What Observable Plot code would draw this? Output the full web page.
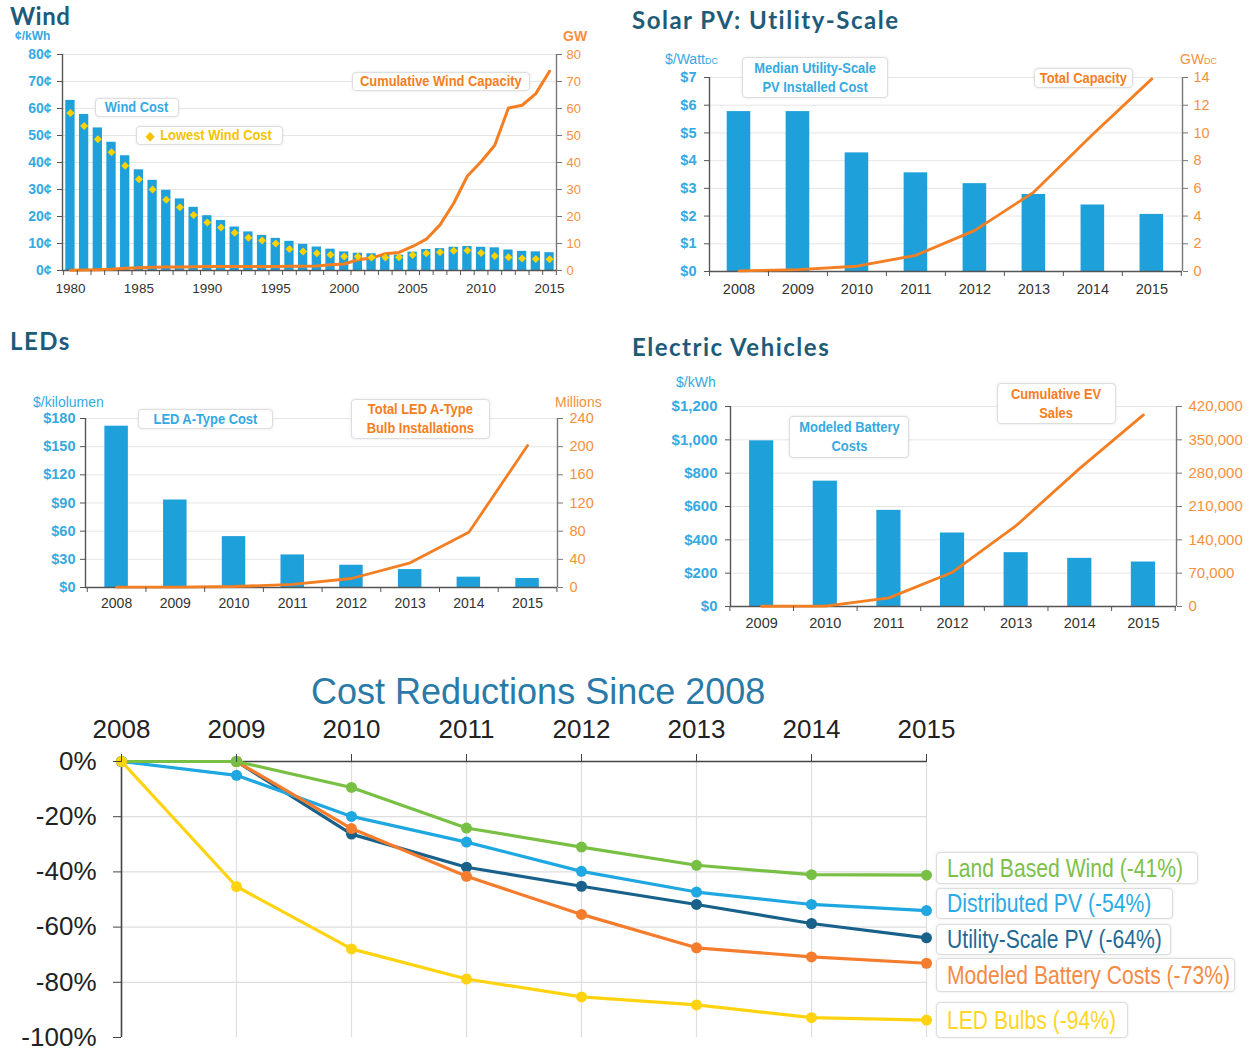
<!DOCTYPE html>
<html>
<head>
<meta charset="utf-8">
<script src="https://cdn.jsdelivr.net/npm/d3@7"></script>
<script src="https://cdn.jsdelivr.net/npm/@observablehq/plot@0.6"></script>
<style>
  html,body{margin:0;padding:0;background:#fff;}
  #root{position:relative;width:1250px;height:1051px;overflow:hidden;background:#fff;font-family:"Liberation Sans",Arial,sans-serif;}
  .plot{position:absolute;}
  .plot svg{display:block;}
  .ttl{position:absolute;font-family:Lato,"Open Sans",sans-serif;font-weight:700;color:#1d5b79;font-size:24px;letter-spacing:1.5px;line-height:1;white-space:nowrap;}
  .unit{position:absolute;line-height:1;white-space:nowrap;font-family:"Liberation Sans",Arial,sans-serif;}
  .box{position:absolute;box-sizing:border-box;background:#fff;border:1px solid #dedede;border-radius:4px;box-shadow:0 0 3px rgba(0,0,0,0.10);display:flex;align-items:center;justify-content:center;text-align:center;font-family:"Liberation Sans",Arial,sans-serif;font-weight:700;font-size:14px;line-height:1.35;white-space:nowrap;}
  .box span.c{display:inline-block;transform:scaleX(0.92);transform-origin:center;}
  .lg{position:absolute;box-sizing:border-box;background:#fff;border:1.5px solid #dcdcdc;border-radius:4px;box-shadow:0 0 3px rgba(0,0,0,0.10);display:flex;align-items:center;padding-left:10px;font-family:"Liberation Sans",Arial,sans-serif;font-size:25px;line-height:1;white-space:nowrap;overflow:visible;}
  .lg span{display:inline-block;transform:scaleX(0.845);transform-origin:left center;}
  .big{position:absolute;font-family:"Liberation Sans",Arial,sans-serif;font-size:36px;line-height:0.85;color:#2a7aa8;white-space:nowrap;}
</style>
</head>
<body>
<div id="root"></div>
<script>
// ---------------- DATA ----------------
// Wind
const windYears = [1980,1981,1982,1983,1984,1985,1986,1987,1988,1989,1990,1991,1992,1993,1994,1995,1996,1997,1998,1999,2000,2001,2002,2003,2004,2005,2006,2007,2008,2009,2010,2011,2012,2013,2014,2015];
const windCost = [63,57.8,52.8,47.5,42.5,37.3,33.4,29.7,26.5,23.4,20.3,18.5,16.1,14.3,13.0,11.9,10.8,9.7,8.7,7.9,6.9,6.4,6.2,5.9,5.7,6.8,7.8,8.1,8.6,8.9,8.6,8.4,7.6,7.1,6.9,6.6];
const windLowest = [58.3,53.5,48.6,43.8,38.8,33.8,30,26.2,23.4,20.6,17.8,15.9,14,12.1,11.1,10,8,7,6.4,5.8,5.2,5.2,4.8,4.8,4.9,5.7,6.4,6.8,7.3,7.4,6.5,5.4,4.9,4.4,4.3,4.2];
const windCapacity = [0.1,0.2,0.3,0.5,0.8,1.0,1.2,1.3,1.3,1.4,1.5,1.5,1.5,1.5,1.5,1.5,1.6,1.6,1.7,2.1,2.4,4.0,4.6,6.2,6.7,8.9,11.6,16.9,24.9,35.0,40.3,46.4,60.2,61.2,65.5,73.8];
const windLabelYears = [1980,1985,1990,1995,2000,2005,2010,2015];
const windLeftTicks = [0,10,20,30,40,50,60,70,80];
const windRightTicks = [0,10,20,30,40,50,60,70,80];

// Solar PV utility-scale
const solarYears = [2008,2009,2010,2011,2012,2013,2014,2015];
const solarCost = [5.77,5.77,4.28,3.56,3.17,2.78,2.40,2.06];
const solarCapacity = [0.05,0.14,0.38,1.17,2.97,5.73,9.9,13.9];
const solarLeftTicks = [0,1,2,3,4,5,6,7];
const solarRightTicks = [0,2,4,6,8,10,12,14];

// LEDs
const ledYears = [2008,2009,2010,2011,2012,2013,2014,2015];
const ledCost = [171.8,93.2,54.2,34.7,23.7,19.1,11,9.6];
const ledInstalls = [0.5,0.5,1.4,4.3,12.8,35,78.4,201.6];
const ledLeftTicks = [0,30,60,90,120,150,180];
const ledRightTicks = [0,40,80,120,160,200,240];

// Electric vehicles
const evYears = [2009,2010,2011,2012,2013,2014,2015];
const evCost = [994,752,577,441,323,289,267];
const evSales = [500,700,18200,72000,169800,290000,402400];
const evLeftTicks = [0,200,400,600,800,1000,1200];
const evRightTicks = [0,70000,140000,210000,280000,350000,420000];

// Cost reductions since 2008 (%)
const redYears = [2008,2009,2010,2011,2012,2013,2014,2015];
const redSeries = ["Utility-Scale PV","Distributed PV","Modeled Battery Costs","Land Based Wind","LED Bulbs"];
const redUtilityPV = [0,0,-26.3,-38.3,-45.2,-51.8,-58.7,-63.9];
const redDistributedPV = [0,-5,-19.9,-29.2,-39.8,-47.3,-51.8,-54];
const redBattery = [null,0,-24.3,-41.6,-55.4,-67.5,-70.8,-73.1];
const redWind = [0,0,-9.4,-24.1,-31,-37.6,-41,-41.2];
const redLED = [0,-45.3,-67.9,-78.8,-85.3,-88.2,-92.8,-93.7];
const redTicks = [0,-20,-40,-60,-80,-100];
const legendLabels = ["Land Based Wind (-41%)","Distributed PV (-54%)","Utility-Scale PV (-64%)","Modeled Battery Costs (-73%)","LED Bulbs (-94%)"];

// ---------------- STYLE ----------------
const BLUE = "#1ea0da";
const ORANGE = "#f47e22";
const YELLOW = "#ffd200";
const BLUE_TXT = "#35a9e1";
const ORANGE_TXT = "#f7903c";
const AXIS = "#555";
const GRID = "#e6e6e6";

const root = document.getElementById("root");
function addEl(tag, cls, css, html) {
  const e = document.createElement(tag);
  if (cls) e.className = cls;
  Object.assign(e.style, css);
  if (html != null) e.innerHTML = html;
  root.appendChild(e);
  return e;
}
function addPlot(svg, left, top, w, h) {
  const d = addEl("div", "plot", {left: left + "px", top: top + "px", width: w + "px", height: h + "px"});
  d.appendChild(svg);
}
function box(l, t, r, b, color, html, extra) {
  return addEl("div", "box", Object.assign({left: l + "px", top: t + "px", width: (r - l) + "px", height: (b - t) + "px", color}, extra || {}), "<span class='c'>" + html + "</span>");
}

function dualPanel(o) {
  const k = o.leftTicks[o.leftTicks.length - 1] / o.rightTicks[o.rightTicks.length - 1];
  const rows = o.years.map((year, i) => ({year, cost: o.cost[i], cap: o.cap[i] * k, low: o.low ? o.low[i] : null}));
  const half = o.years.map(y => y - 0.5).concat([o.years[o.years.length - 1] + 0.5]);
  const marks = [
    Plot.ruleY(o.leftTicks.filter(t => t > 0), {stroke: GRID, strokeWidth: 1}),
    Plot.rectY(rows, {x1: d => d.year - o.barHalf, x2: d => d.year + o.barHalf, y1: 0, y2: "cost", fill: BLUE}),
    Plot.ruleY([0], {stroke: AXIS, strokeWidth: 1.4}),
    Plot.ruleX([o.xDomain[0]], {stroke: AXIS, strokeWidth: 1.4}),
    Plot.ruleX([o.xDomain[1]], {stroke: "#777", strokeWidth: 1.4}),
    Plot.line(rows, {x: "year", y: "cap", stroke: ORANGE, strokeWidth: o.lineWidth || 2.8})
  ];
  if (o.low) marks.push(Plot.dot(rows, {x: "year", y: "low", symbol: "diamond2", fill: YELLOW, stroke: "none", r: 3.6}));
  marks.push(
    Plot.axisY({anchor: "left", ticks: o.leftTicks, tickFormat: o.leftFmt, tickSize: 5, tickPadding: o.leftPad, stroke: AXIS, fill: BLUE_TXT, fontSize: o.leftFont, fontWeight: "bold", label: null}),
    Plot.axisY({anchor: "right", ticks: o.rightTicks.map(r => r * k), tickFormat: v => o.rightFmt(Math.round(v / k)), tickSize: 5, tickPadding: o.rightPad, stroke: "#777", fill: ORANGE_TXT, fontSize: o.rightFont, label: null}),
    Plot.axisX({anchor: "bottom", ticks: o.labelYears, tickFormat: d => String(d), tickSize: 0, tickPadding: o.xPad, fill: "#333", fontSize: o.xFont, label: null}),
    Plot.axisX({anchor: "bottom", ticks: half, tickFormat: () => "", tickSize: 5, stroke: AXIS, label: null})
  );
  return Plot.plot({
    width: o.width, height: o.height,
    marginLeft: o.mL, marginRight: o.mR, marginTop: o.mT, marginBottom: o.mB,
    x: {type: "linear", domain: o.xDomain},
    y: {type: "linear", domain: [0, o.leftTicks[o.leftTicks.length - 1]]},
    style: {background: "transparent", fontFamily: "'Liberation Sans', Arial, sans-serif", color: "#333", overflow: "visible"},
    marks
  });
}

// ---------------- WIND ----------------
addPlot(dualPanel({
  years: windYears, cost: windCost, cap: windCapacity, low: windLowest,
  leftTicks: windLeftTicks, rightTicks: windRightTicks,
  leftFmt: d => d + "¢", rightFmt: d => String(d),
  labelYears: windLabelYears,
  width: 600, height: 262, mL: 62, mR: 44, mT: 14, mB: 32,
  xDomain: [1979.42, 2015.51], barHalf: 0.34,
  leftFont: 14, leftPad: 6, rightFont: 13, rightPad: 5, xFont: 13.5, xPad: 13, lineWidth: 3
}), 0, 40, 600, 262);

// ---------------- SOLAR ----------------
addPlot(dualPanel({
  years: solarYears, cost: solarCost, cap: solarCapacity,
  leftTicks: solarLeftTicks, rightTicks: solarRightTicks,
  leftFmt: d => "$" + d, rightFmt: d => String(d),
  labelYears: solarYears,
  width: 630, height: 250, mL: 89, mR: 68, mT: 27, mB: 29,
  xDomain: [2007.5, 2015.52], barHalf: 0.2,
  leftFont: 14.5, leftPad: 8, rightFont: 14.5, rightPad: 6, xFont: 14.5, xPad: 12, lineWidth: 2.8
}), 620, 50, 630, 250);

// ---------------- LEDs ----------------
addPlot(dualPanel({
  years: ledYears, cost: ledCost, cap: ledInstalls,
  leftTicks: ledLeftTicks, rightTicks: ledRightTicks,
  leftFmt: d => "$" + d, rightFmt: d => String(d),
  labelYears: ledYears,
  width: 620, height: 230, mL: 85, mR: 63, mT: 28, mB: 33,
  xDomain: [2007.47, 2015.51], barHalf: 0.2,
  leftFont: 14.5, leftPad: 5, rightFont: 14.5, rightPad: 7, xFont: 14, xPad: 11, lineWidth: 2.8
}), 0, 390, 620, 230);

// ---------------- EV ----------------
addPlot(dualPanel({
  years: evYears, cost: evCost, cap: evSales,
  leftTicks: evLeftTicks, rightTicks: evRightTicks,
  leftFmt: d => "$" + d3.format(",")(d), rightFmt: d => d3.format(",")(d),
  labelYears: evYears,
  width: 630, height: 260, mL: 110, mR: 74, mT: 26, mB: 34,
  xDomain: [2008.51, 2015.52], barHalf: 0.19,
  leftFont: 15, leftPad: 8, rightFont: 15, rightPad: 7, xFont: 14.5, xPad: 11, lineWidth: 2.8
}), 620, 380, 630, 260);

// ---------------- COST REDUCTIONS ----------------
const redColors = {"Utility-Scale PV": "#17618a", "Distributed PV": "#1fa7e1", "Modeled Battery Costs": "#f47c2c", "Land Based Wind": "#78c043", "LED Bulbs": "#ffd30f"};
const redValues = {"Utility-Scale PV": redUtilityPV, "Distributed PV": redDistributedPV, "Modeled Battery Costs": redBattery, "Land Based Wind": redWind, "LED Bulbs": redLED};
const redMarks = [
  Plot.ruleY([-20, -40, -60, -80], {x1: 2008, x2: 2015, stroke: "#dedede", strokeWidth: 1.2}),
  Plot.ruleX(redYears.slice(1), {y1: -100, y2: 0, stroke: "#dedede", strokeWidth: 1.2}),
  Plot.ruleY([0], {x1: 2008, x2: 2015, stroke: "#444", strokeWidth: 1.6}),
  Plot.ruleX([2008], {y1: -100, y2: 0, stroke: "#444", strokeWidth: 1.6})
];
for (const s of redSeries) {
  const rows = redYears.map((year, i) => ({year, value: redValues[s][i]})).filter(d => d.value != null);
  redMarks.push(Plot.line(rows, {x: "year", y: "value", stroke: redColors[s], strokeWidth: 3.2}));
  redMarks.push(Plot.dot(rows, {x: "year", y: "value", fill: redColors[s], r: 5.5}));
}
redMarks.push(
  Plot.axisX({anchor: "top", ticks: redYears, tickFormat: d => String(d), tickSize: 8, tickPadding: 16, stroke: "#444", fill: "#222", fontSize: 26, label: null}),
  Plot.axisY({anchor: "left", ticks: redTicks, tickFormat: d => d + "%", tickSize: 8, tickPadding: 17, stroke: "#444", fill: "#222", fontSize: 26, label: null})
);
addPlot(Plot.plot({
  width: 1250, height: 339,
  marginLeft: 121, marginRight: 324, marginTop: 49, marginBottom: 14,
  x: {type: "linear", domain: [2008, 2015]},
  y: {type: "linear", domain: [-100, 0]},
  style: {background: "transparent", fontFamily: "'Liberation Sans', Arial, sans-serif", overflow: "visible"},
  marks: redMarks
}), 0, 712, 1250, 339);

// ---------------- TEXT / LEGENDS ----------------
addEl("div", "ttl", {left: "10px", top: "4px", letterSpacing: "0.5px"}, "Wind");
addEl("div", "ttl", {left: "632px", top: "8px"}, "Solar PV: Utility-Scale");
addEl("div", "ttl", {left: "10px", top: "329px"}, "LEDs");
addEl("div", "ttl", {left: "632px", top: "335px"}, "Electric Vehicles");

addEl("div", "unit", {left: "15px", top: "30px", fontSize: "12px", fontWeight: "bold", color: BLUE_TXT}, "¢/kWh");
addEl("div", "unit", {left: "563px", top: "29px", fontSize: "14px", fontWeight: "bold", color: ORANGE_TXT}, "GW");
addEl("div", "unit", {left: "665px", top: "52px", fontSize: "14px", color: BLUE_TXT}, "$/Watt<span style='font-size:9px'>DC</span>");
addEl("div", "unit", {left: "1180px", top: "52px", fontSize: "14px", color: ORANGE_TXT}, "GW<span style='font-size:9px'>DC</span>");
addEl("div", "unit", {left: "33px", top: "395px", fontSize: "14px", color: BLUE_TXT}, "$/kilolumen");
addEl("div", "unit", {left: "555px", top: "395px", fontSize: "14px", color: ORANGE_TXT}, "Millions");
addEl("div", "unit", {left: "676px", top: "375px", fontSize: "14px", color: BLUE_TXT}, "$/kWh");

box(95, 98, 179, 117, BLUE_TXT, "Wind Cost");
box(136, 126, 283, 145, "#f5c400", "<span style='font-size:12px;margin-right:6px'>◆</span>Lowest Wind Cost");
box(352, 72, 530, 91, ORANGE, "Cumulative Wind Capacity");
box(742, 57, 888, 98, BLUE_TXT, "Median Utility-Scale<br>PV Installed Cost");
box(1034, 68, 1133, 88, ORANGE, "Total Capacity");
box(138, 409, 273, 429, BLUE_TXT, "LED A-Type Cost");
box(351, 399, 490, 439, ORANGE, "Total LED A-Type<br>Bulb Installations");
box(789, 416, 909, 458, BLUE_TXT, "Modeled Battery<br>Costs");
box(997, 383, 1116, 424, ORANGE, "Cumulative EV<br>Sales");

addEl("div", "big", {left: "311px", top: "677px"}, "Cost Reductions Since 2008");

const lgColors = ["#7cc04a", "#2aaae6", "#1f6a93", "#f58a45", "#ffd527"];
const lgBoxes = [[936, 852, 1198, 884], [936, 888, 1173, 919], [936, 924, 1171, 955], [936, 958, 1235, 992], [936, 1002, 1128, 1038]];
legendLabels.forEach((t, i) => {
  const [l, tp, r, b] = lgBoxes[i];
  addEl("div", "lg", {left: l + "px", top: tp + "px", width: (r - l) + "px", height: (b - tp) + "px", color: lgColors[i]}, "<span>" + t + "</span>");
});
</script>
</body>
</html>
